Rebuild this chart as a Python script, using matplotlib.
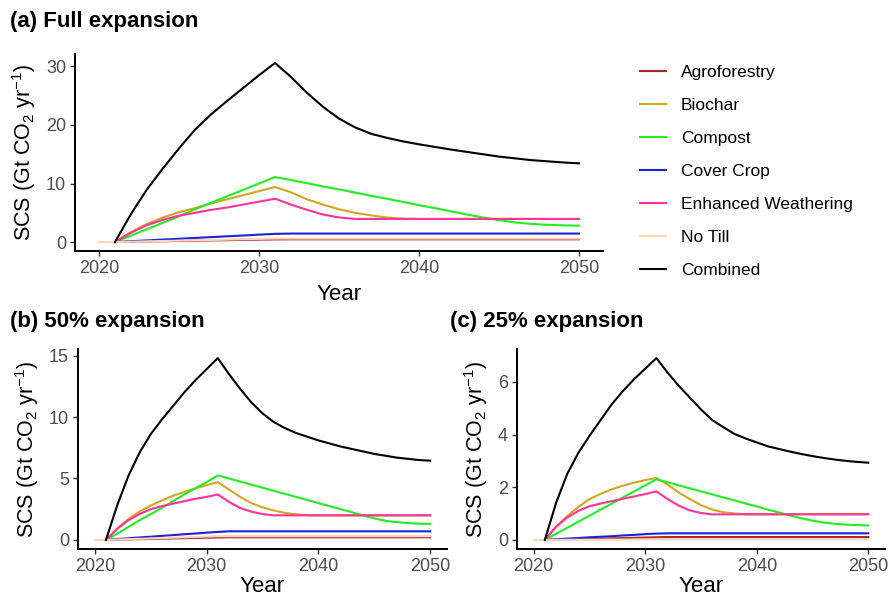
import matplotlib
matplotlib.use("Agg")
import matplotlib.pyplot as plt

plt.rcParams["font.family"] = ["Liberation Sans", "DejaVu Sans"]
plt.rcParams["mathtext.fontset"] = "custom"
plt.rcParams["mathtext.rm"] = "Liberation Sans"
plt.rcParams["mathtext.it"] = "Liberation Sans:italic"

# years 2021-2050 for most practices, No Till starts in 2020
years = list(range(2021, 2051))
years_notill = list(range(2020, 2051))

practices = ["Agroforestry", "Biochar", "Compost", "Cover Crop",
             "Enhanced Weathering", "No Till", "Combined"]
colors = ["#A52A2A", "#D4A520", "#22EE22", "#1C22D6",
          "#FF3399", "#FDD5B8", "black"]

# (a) Full expansion
agro_a = [0, 0.05, 0.1, 0.14, 0.19, 0.23, 0.28, 0.32, 0.37, 0.41, 0.45] + [0.47] * 19
biochar_a = [0, 1.7, 3.1, 4.2, 5.1, 5.8, 6.6, 7.3, 8.0, 8.7, 9.4,
             8.5, 7.3, 6.4, 5.6, 5.0, 4.55, 4.2, 4.0, 3.95] + [3.95] * 10
compost_a = [0, 1.1, 2.2, 3.3, 4.4, 5.6, 6.7, 7.8, 8.9, 10.0, 11.1,
             10.6, 10.05, 9.5, 9.0, 8.45, 7.9, 7.4, 6.85, 6.3, 5.8,
             5.25, 4.7, 4.2, 3.75, 3.35, 3.1, 2.95, 2.85, 2.8]
cover_a = [0, 0.14, 0.28, 0.42, 0.56, 0.7, 0.84, 0.98, 1.12, 1.26, 1.4] + [1.45] * 19
ew_a = [0, 1.6, 2.9, 3.8, 4.5, 5.0, 5.5, 5.9, 6.4, 6.9, 7.4,
        6.4, 5.5, 4.7, 4.2, 3.95] + [3.95] * 14
notill_a = [0, 0, 0.06, 0.12, 0.18, 0.24, 0.3, 0.36, 0.42, 0.48, 0.54, 0.6] + [0.6] * 19
combined_a = [0, 4.8, 9.0, 12.6, 16.0, 19.2, 21.8, 24.1, 26.3, 28.5, 30.6,
              28.2, 25.5, 23.1, 21.1, 19.6, 18.5, 17.8, 17.2, 16.7, 16.25,
              15.8, 15.4, 15.0, 14.6, 14.3, 14.0, 13.8, 13.6, 13.45]

# (b) 50% expansion
agro_b = [0, 0.02, 0.04, 0.06, 0.08, 0.1, 0.12, 0.14, 0.16, 0.18, 0.2] + [0.21] * 19
biochar_b = [0, 0.9, 1.7, 2.3, 2.8, 3.2, 3.6, 3.9, 4.2, 4.45, 4.7,
             4.1, 3.5, 3.0, 2.65, 2.4, 2.2, 2.08, 2.02, 2.0] + [2.0] * 10
compost_b = [0, 0.5, 1.05, 1.6, 2.1, 2.6, 3.15, 3.7, 4.2, 4.7, 5.25,
             5.0, 4.75, 4.5, 4.25, 4.0, 3.75, 3.5, 3.25, 3.0, 2.75,
             2.5, 2.25, 2.0, 1.75, 1.55, 1.45, 1.37, 1.32, 1.3]
cover_b = [0, 0.07, 0.13, 0.2, 0.26, 0.33, 0.39, 0.46, 0.52, 0.59, 0.65] + [0.7] * 19
ew_b = [0, 0.9, 1.6, 2.1, 2.5, 2.75, 2.95, 3.15, 3.35, 3.5, 3.7,
        3.1, 2.6, 2.3, 2.1, 2.0] + [2.0] * 14
notill_b = [0, 0, 0.03, 0.06, 0.09, 0.12, 0.15, 0.18, 0.21, 0.24, 0.27, 0.3] + [0.3] * 19
combined_b = [0, 2.8, 5.2, 7.1, 8.6, 9.8, 10.9, 12.0, 13.0, 13.9, 14.8,
              13.5, 12.3, 11.2, 10.3, 9.6, 9.1, 8.7, 8.4, 8.1, 7.85,
              7.6, 7.4, 7.2, 7.0, 6.85, 6.7, 6.6, 6.5, 6.45]

# (c) 25% expansion
agro_c = [0, 0.01, 0.02, 0.03, 0.04, 0.05, 0.06, 0.07, 0.08, 0.09, 0.1] + [0.11] * 19
biochar_c = [0, 0.5, 0.9, 1.25, 1.55, 1.75, 1.92, 2.06, 2.17, 2.27, 2.35,
             2.1, 1.8, 1.55, 1.32, 1.15, 1.05, 1.0, 0.98, 0.98] + [0.98] * 10
compost_c = [0, 0.23, 0.46, 0.69, 0.92, 1.15, 1.38, 1.61, 1.84, 2.07, 2.3,
             2.19, 2.07, 1.96, 1.84, 1.73, 1.61, 1.5, 1.38, 1.27, 1.15,
             1.04, 0.93, 0.82, 0.73, 0.66, 0.61, 0.58, 0.56, 0.55]
cover_c = [0, 0.02, 0.05, 0.07, 0.1, 0.12, 0.14, 0.17, 0.19, 0.22, 0.24] + [0.25] * 19
ew_c = [0, 0.5, 0.85, 1.1, 1.28, 1.38, 1.47, 1.56, 1.65, 1.74, 1.84,
        1.55, 1.3, 1.12, 1.02, 0.97] + [0.97] * 14
notill_c = [0, 0, 0.002, 0.004, 0.006, 0.008, 0.01, 0.012, 0.014, 0.016, 0.018, 0.02] + [0.02] * 19
combined_c = [0, 1.4, 2.5, 3.3, 3.95, 4.55, 5.15, 5.65, 6.1, 6.5, 6.9,
              6.35, 5.85, 5.4, 4.95, 4.55, 4.28, 4.02, 3.85, 3.7, 3.55,
              3.45, 3.35, 3.26, 3.18, 3.11, 3.05, 3.0, 2.96, 2.93]

panels = [
    ("(a) Full expansion", [agro_a, biochar_a, compost_a, cover_a, ew_a, notill_a, combined_a], [0, 10, 20, 30]),
    ("(b) 50% expansion", [agro_b, biochar_b, compost_b, cover_b, ew_b, notill_b, combined_b], [0, 5, 10, 15]),
    ("(c) 25% expansion", [agro_c, biochar_c, compost_c, cover_c, ew_c, notill_c, combined_c], [0, 2, 4, 6]),
]

W, H = 892, 599
fig = plt.figure(figsize=(W / 100, H / 100), dpi=100)


def box(left, top, right, bottom):
    return [left / W, 1 - bottom / H, (right - left) / W, (bottom - top) / H]


axes = [
    fig.add_axes(box(75, 54, 603, 251)),
    fig.add_axes(box(78, 349, 447, 549)),
    fig.add_axes(box(517, 349, 885, 549)),
]
title_pos = [(10, 22), (10, 322), (450, 322)]
xlab_pad = [5, 1, 1]

for ax, (title, series, yticks), (tx, ty), xp in zip(axes, panels, title_pos, xlab_pad):
    for name, vals, col in zip(practices, series, colors):
        xs = years_notill if name == "No Till" else years
        ax.plot(xs, vals, color=col, lw=1.5, label=name)
    ax.set_xlim(2018.5, 2051.5)
    ax.set_xticks([2020, 2030, 2040, 2050])
    ax.set_yticks(yticks)
    for s in ["top", "right"]:
        ax.spines[s].set_visible(False)
    for s in ["left", "bottom"]:
        ax.spines[s].set_linewidth(1.4)
    ax.tick_params(labelsize=13, labelcolor="#4D4D4D", color="#333333",
                   length=3.5, width=1, pad=3)
    ax.set_xlabel("Year", fontsize=16, labelpad=xp)
    ax.set_ylabel("SCS (Gt CO$_2$ yr$^{-1}$)", fontsize=15.5, labelpad=6)
    fig.text(tx / W, 1 - ty / H, title, fontsize=16, fontweight="bold",
             ha="left", va="center")

handles, labels = axes[0].get_legend_handles_labels()
fig.legend(handles, labels, loc="upper left", bbox_to_anchor=(640 / W, 1 - 65 / H),
           frameon=False, fontsize=12.5, handlelength=1.5, handletextpad=0.85,
           labelspacing=1.03, borderpad=0, borderaxespad=0)

fig.savefig("out.png", dpi=100)
